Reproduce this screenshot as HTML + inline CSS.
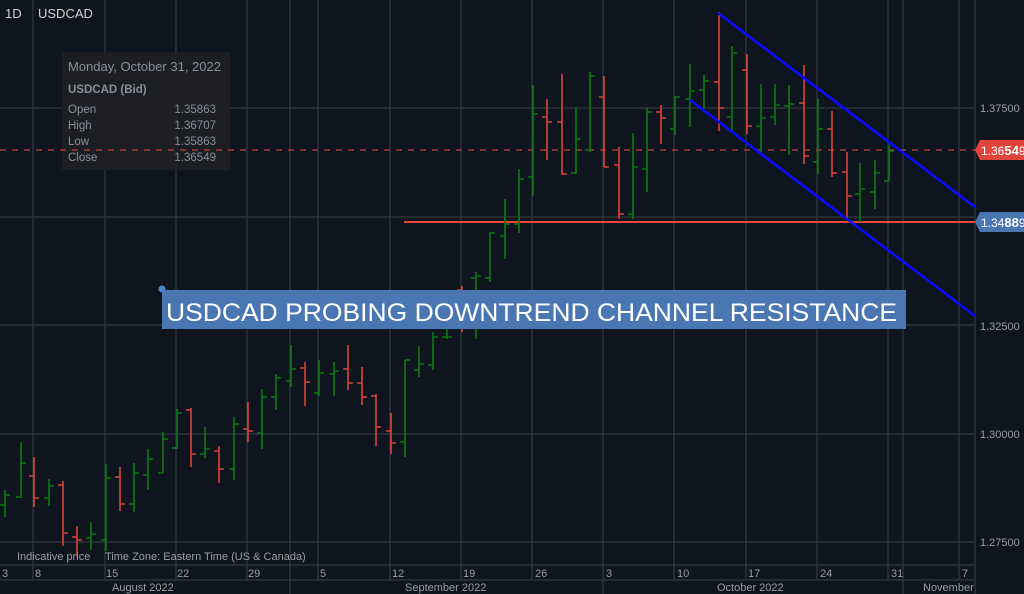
<!DOCTYPE html>
<html><head><meta charset="utf-8"><style>
html,body{margin:0;padding:0;background:#0e151e;}
svg{display:block;font-family:"Liberation Sans",sans-serif;}
</style></head><body>
<svg width="1024" height="594" viewBox="0 0 1024 594" xmlns="http://www.w3.org/2000/svg">
<rect width="1024" height="594" fill="#0e151e"/>
<g stroke="#353a40" stroke-width="1.2">
<line x1="33" y1="0" x2="33" y2="580"/><line x1="105" y1="0" x2="105" y2="580"/><line x1="176" y1="0" x2="176" y2="580"/><line x1="247" y1="0" x2="247" y2="580"/><line x1="290" y1="0" x2="290" y2="594"/><line x1="318" y1="0" x2="318" y2="580"/><line x1="390" y1="0" x2="390" y2="580"/><line x1="461" y1="0" x2="461" y2="580"/><line x1="532" y1="0" x2="532" y2="580"/><line x1="603" y1="0" x2="603" y2="594"/><line x1="674" y1="0" x2="674" y2="580"/><line x1="746" y1="0" x2="746" y2="580"/><line x1="817" y1="0" x2="817" y2="580"/><line x1="888" y1="0" x2="888" y2="580"/><line x1="903" y1="0" x2="903" y2="594"/><line x1="959" y1="0" x2="959" y2="580"/>
<line x1="0" y1="108" x2="975" y2="108"/><line x1="0" y1="217" x2="975" y2="217"/><line x1="0" y1="325" x2="975" y2="325"/><line x1="0" y1="434" x2="975" y2="434"/><line x1="0" y1="542" x2="975" y2="542"/>
<line x1="0" y1="565" x2="975" y2="565"/><line x1="0" y1="580" x2="975" y2="580"/>
<line x1="975" y1="0" x2="975" y2="594"/>
</g>
<rect x="62" y="52" width="168" height="118" fill="#1d2024" opacity="0.92"/>
<g font-size="12.5" fill="#8c9096">
<text x="68" y="71" font-size="13">Monday, October 31, 2022</text>
<text x="68" y="93" font-weight="bold" font-size="11.5">USDCAD (Bid)</text>
<text x="68" y="113" font-size="11.5">Open</text><text x="216" y="113" font-size="11.5" text-anchor="end">1.35863</text>
<text x="68" y="129" font-size="11.5">High</text><text x="216" y="129" font-size="11.5" text-anchor="end">1.36707</text>
<text x="68" y="145" font-size="11.5">Low</text><text x="216" y="145" font-size="11.5" text-anchor="end">1.35863</text>
<text x="68" y="161" font-size="11.5">Close</text><text x="216" y="161" font-size="11.5" text-anchor="end">1.36549</text>
</g>
<text x="5" y="18" font-size="13" fill="#d0d3d6">1D</text>
<text x="38" y="18" font-size="13" fill="#d0d3d6">USDCAD</text>
<line x1="0" y1="150" x2="975" y2="150" stroke="#c8403a" stroke-width="1.3" stroke-dasharray="6,6"/>
<line x1="404" y1="222" x2="975" y2="222" stroke="#e5453c" stroke-width="2"/>
<g fill="none" stroke-width="1.6">
<path stroke="#0c7a12" d="M5,490V517M0,505H5M5,495H10 M21,442V498M16,497H21M21,463H26 M49,479V506M44,498H49M49,486H54 M91,522V550M86,538H91M91,534H96 M106,464V551M101,540H106M106,478H111 M134,463V512M129,504H134M134,473H139 M148,449V490M143,475H148M148,459H153 M163,432V473M158,473H163M163,439H168 M177,409V449M172,448H177M177,413H182 M205,427V458M200,454H205M205,449H210 M234,417V480M229,469H234M234,424H239 M262,389V449M257,433H262M262,397H267 M276,374V410M271,397H276M276,378H281 M291,345V387M286,381H291M291,369H296 M319,360V396M314,393H319M319,373H324 M334,362V396M329,374H334M334,371H339 M405,360V457M400,442H405M405,360H410 M419,346V377M414,370H419M419,364H424 M433,332V370M428,365H433M433,337H438 M447,325V339M442,337H447M447,337H452 M476,272V339M471,278H476M476,276H481 M490,232V282M485,278H490M490,233H495 M505,199V259M500,236H505M505,224H510 M519,169V233M514,224H519M519,179H524 M533,85V196M528,177H533M533,114H538 M576,108V174M571,173H576M576,139H581 M590,72V152M585,150H590M590,76H595 M633,133V219M628,214H633M633,167H638 M647,108V192M642,169H647M647,112H652 M675,96V135M670,129H675M675,97H680 M690,64V127M685,99H690M690,91H695 M704,75V108M699,90H704M704,81H709 M732,46V131M727,117H732M732,53H737 M761,84V152M756,126H761M761,118H766 M775,84V125M770,117H775M775,105H780 M789,85V155M784,106H789M789,104H794 M818,99V174M813,162H818M818,129H823 M860,163V222M855,194H860M860,189H865 M875,160V209M870,192H875M875,173H880 M889,145V181M884,181H889M889,151H894"/>
<path stroke="#d9443a" d="M34,457V507M29,476H34M34,498H39 M63,481V546M58,485H63M63,533H68 M77,526V557M72,537H77M77,540H82 M120,467V511M115,477H120M120,504H125 M191,408V467M186,410H191M191,454H196 M219,446V483M214,451H219M219,469H224 M248,402V442M243,429H248M248,431H253 M305,362V406M300,368H305M305,382H310 M348,345V390M343,369H348M348,383H353 M362,367V405M357,383H362M362,397H367 M376,394V446M371,396H376M376,427H381 M391,413V454M386,431H391M391,443H396 M462,286V332M457,290H462M462,327H467 M547,99V160M542,117H547M547,122H552 M562,74V175M557,122H562M562,174H567 M604,76V167M599,97H604M604,167H609 M619,147V219M614,165H619M619,214H624 M661,105V144M656,112H661M661,118H666 M719,12V131M714,82H719M719,108H724 M747,54V134M742,70H747M747,126H752 M804,65V164M799,103H804M804,156H809 M832,111V177M827,129H832M832,173H837 M847,152V218M842,172H847M847,196H852"/>
</g>
<g stroke="#0a0aff" stroke-width="2.6">
<line x1="718" y1="13" x2="975" y2="207"/>
<line x1="690" y1="100" x2="975" y2="316"/>
</g>
<rect x="162" y="290" width="744" height="39" fill="#4a76b2"/>
<circle cx="162" cy="289" r="3.5" fill="#4a86c8"/>
<text x="166" y="321" font-size="25" fill="#ffffff" textLength="731" lengthAdjust="spacingAndGlyphs">USDCAD PROBING DOWNTREND CHANNEL RESISTANCE</text>
<g font-size="11" fill="#9a9ea4">
<text x="980" y="112">1.37500</text>
<text x="980" y="438">1.30000</text>
<text x="980" y="330">1.32500</text>
<text x="980" y="546">1.27500</text>
</g>
<path d="M980,140H1024V160H980L975,150Z" fill="#e0443a"/>
<text x="981" y="155" font-size="12" fill="#fff">1.36<tspan font-weight="bold" font-size="13">54</tspan>9</text>
<path d="M980,212H1024V232H980L975,222Z" fill="#4a76b2"/>
<text x="981" y="227" font-size="12" fill="#fff">1.34<tspan font-weight="bold" font-size="13">88</tspan>9</text>
<g font-size="11" fill="#9a9ea4">
<text x="17" y="560">Indicative price</text>
<text x="105" y="560">Time Zone: Eastern Time (US &amp; Canada)</text>
<text x="2" y="577">3</text><text x="35" y="577">8</text><text x="106" y="577">15</text><text x="177" y="577">22</text><text x="248" y="577">29</text><text x="320" y="577">5</text><text x="392" y="577">12</text><text x="463" y="577">19</text><text x="535" y="577">26</text><text x="606" y="577">3</text><text x="677" y="577">10</text><text x="748" y="577">17</text><text x="820" y="577">24</text><text x="891" y="577">31</text><text x="962" y="577">7</text>
<text x="112" y="591">August 2022</text><text x="405" y="591">September 2022</text><text x="717" y="591">October 2022</text><text x="923" y="591">November</text>
</g>
</svg>
</body></html>
